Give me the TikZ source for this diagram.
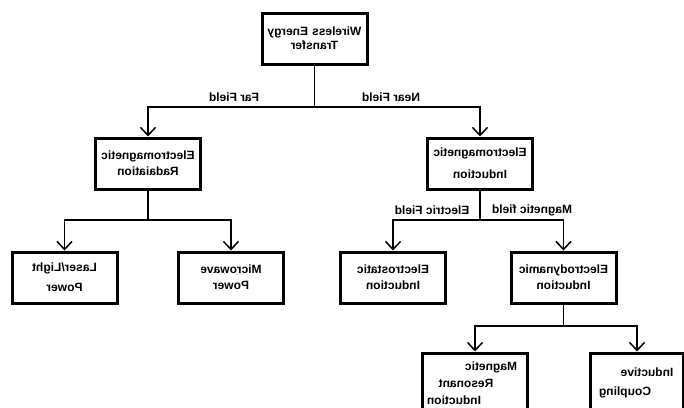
\documentclass[tikz,border=0pt]{standalone}
\usepackage{fontspec}
\setmainfont{Liberation Sans}
\usetikzlibrary{arrows.meta}
\begin{document}
\begin{tikzpicture}[
x=1pt,y=-1pt,
box/.style={draw,line width=3pt,minimum width=105pt,minimum height=51pt,text width=100pt,align=center,inner sep=0pt,xscale=-1,font=\fontsize{12}{16}\selectfont\bfseries},
lbl/.style={xscale=-1,inner sep=1pt,font=\fontsize{12}{14}\selectfont\bfseries},
link/.style={-{Straight Barb[length=8pt,width=15pt]},line width=1.5pt},
stem/.style={line width=1.5pt},
]
\clip(0,0)rectangle(684,407);
\fill[white](0,0)rectangle(684,407);

%boxes
\node[box](wet)at(314.5,38.5){Wireless Energy\\[-2pt]Transfer};
\node[box](rad)at(148,163.5){Electromagnetic\\Radaiation};
\node[box](ind)at(480,163.5){Electromagnetic\\[6pt]Induction};
\node[box](laser)at(64.5,277.5){Laser/Light\\[4pt]Power};
\node[box](micro)at(231,277.5){Microwave\\Power};
\node[box](estat)at(393,277.5){Electrostatic\\Induction};
\node[box](edyn)at(563.5,277.5){Electrodynamic\\Induction};
\node[box,minimum height=60pt](mri)at(475,383){\hspace*{-32pt}Magnetic\\[1pt]\hspace*{18pt}Resonant\\[1pt]\hspace*{42pt}Induction};
\node[box,minimum width=93pt,text width=90pt,minimum height=60pt](ic)at(637,383){\hspace*{-20pt}Inductive\\[3pt]\hspace*{24pt}Coupling};

%junctions
\coordinate(j1)at(wet.south|-0,107);
\coordinate(j2)at(rad.south|-0,220);
\coordinate(j3)at(ind.south|-0,220);
\coordinate(j4)at(edyn.south|-0,326);

%links
\draw[stem](wet.south)--(j1);
\draw[link](j1)-|(rad.north);
\draw[link](j1)-|(ind.north);
\draw[stem](rad.south)--(j2);
\draw[link](j2)-|(laser.north);
\draw[link](j2)-|(micro.north);
\draw[stem](ind.south)--(j3);
\draw[link](j3)-|(estat.north);
\draw[link](j3)-|(edyn.north);
\draw[stem](edyn.south)--(j4);
\draw[link](j4)-|(mri.north);
\draw[link](j4)-|(ic.north);

%labels
\node[lbl](far)at(234,97){Far Field};
\node[lbl](near)at(391,97){Near Field};
\node[lbl](efield)at(432,210){Electric Field};
\node[lbl](mfield)at(532,210){Magnetic field};

\end{tikzpicture}
\end{document}
